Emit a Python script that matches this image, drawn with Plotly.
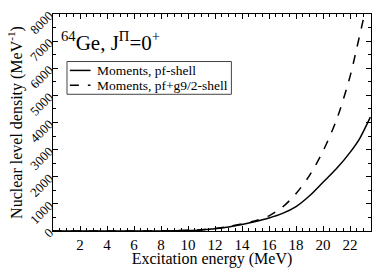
import plotly.graph_objects as go

x_solid = [0, 2, 4, 6, 8, 10, 11, 12, 13, 14, 15, 16, 17, 18, 19, 20, 21, 22, 22.7, 23.5]
y_solid = [0, 0, 0, 1, 4, 20, 40, 80, 150, 240, 350, 480, 650, 900, 1300, 1800, 2300, 2900, 3400, 4200]

x_dash = [0, 2, 4, 6, 8, 10, 11, 12, 13, 14, 15, 16, 17, 18, 19, 20, 21, 22, 22.5, 23.0, 23.1]
y_dash = [0, 0, 0, 1, 5, 25, 50, 90, 165, 260, 380, 560, 880, 1380, 2050, 2950, 4100, 5700, 6750, 7850, 8100]

x_ticks = [2, 4, 6, 8, 10, 12, 14, 16, 18, 20, 22]
series_names = ["Moments, pf-shell", "Moments, pf+g9/2-shell"]

FONT = "Liberation Serif"

fig = go.Figure()
fig.add_trace(go.Scatter(x=x_solid, y=y_solid, mode="lines", name=series_names[0],
                         line=dict(color="black", width=1.5, shape="spline", smoothing=0.8)))
fig.add_trace(go.Scatter(x=x_dash, y=y_dash, mode="lines", name=series_names[1],
                         line=dict(color="black", width=1.5, dash="dash", shape="spline", smoothing=0.8)))

# manual compact legend (paper coordinates)
shapes = [dict(type="rect", xref="paper", yref="paper", x0=0.044, x1=0.561, y0=0.630, y1=0.781,
               line=dict(color="#444", width=1), fillcolor="white", layer="above")]
annots = [dict(text="<sup>64</sup>Ge, J<sup>Π</sup>=0<sup>+</sup>", x=0.02, y=0.875,
               xref="paper", yref="paper", xanchor="left", yanchor="middle",
               showarrow=False, font=dict(family=FONT, size=21))]
rows_y = [0.740, 0.672]
dashes = ["solid", "dash"]
for name, yy, d in zip(series_names, rows_y, dashes):
    shapes.append(dict(type="line", xref="paper", yref="paper", x0=0.053, x1=0.118, y0=yy, y1=yy,
                       line=dict(color="black", width=1.5, dash=d), layer="above"))
    annots.append(dict(text=name, x=0.133, y=yy, xref="paper", yref="paper", xanchor="left",
                       yanchor="middle", showarrow=False, font=dict(family=FONT, size=13.5)))

fig.update_layout(
    width=374, height=268,
    margin=dict(l=53, r=2, t=14, b=35),
    paper_bgcolor="white", plot_bgcolor="white",
    font=dict(family=FONT, color="black", size=14),
    showlegend=False,
    shapes=shapes,
    annotations=annots,
)
fig.update_xaxes(range=[0, 23.55], tickmode="array", tickvals=x_ticks,
                 ticks="inside", ticklen=5, tickcolor="black",
                 showline=True, linecolor="black", linewidth=1, mirror="allticks",
                 showgrid=False, zeroline=False,
                 minor=dict(dtick=0.5, tick0=0, ticks="inside", ticklen=3, tickcolor="black", showgrid=False),
                 tickfont=dict(family=FONT, size=15),
                 title=dict(text="Excitation energy (MeV)", font=dict(family=FONT, size=16), standoff=2))
fig.update_yaxes(range=[0, 8000], tickmode="linear", tick0=0, dtick=1000,
                 ticks="inside", ticklen=5, tickcolor="black", tickangle=-45,
                 showline=True, linecolor="black", linewidth=1, mirror="allticks",
                 showgrid=False, zeroline=False,
                 minor=dict(dtick=500, ticks="inside", ticklen=3, tickcolor="black", showgrid=False),
                 tickfont=dict(family=FONT, size=13),
                 title=dict(text="Nuclear level density (MeV<sup>-1</sup>)", font=dict(family=FONT, size=16), standoff=0))

fig.write_html("out.html", config={"displayModeBar": False},
               post_script=["document.body.style.margin='0';document.body.style.overflow='hidden';"])
